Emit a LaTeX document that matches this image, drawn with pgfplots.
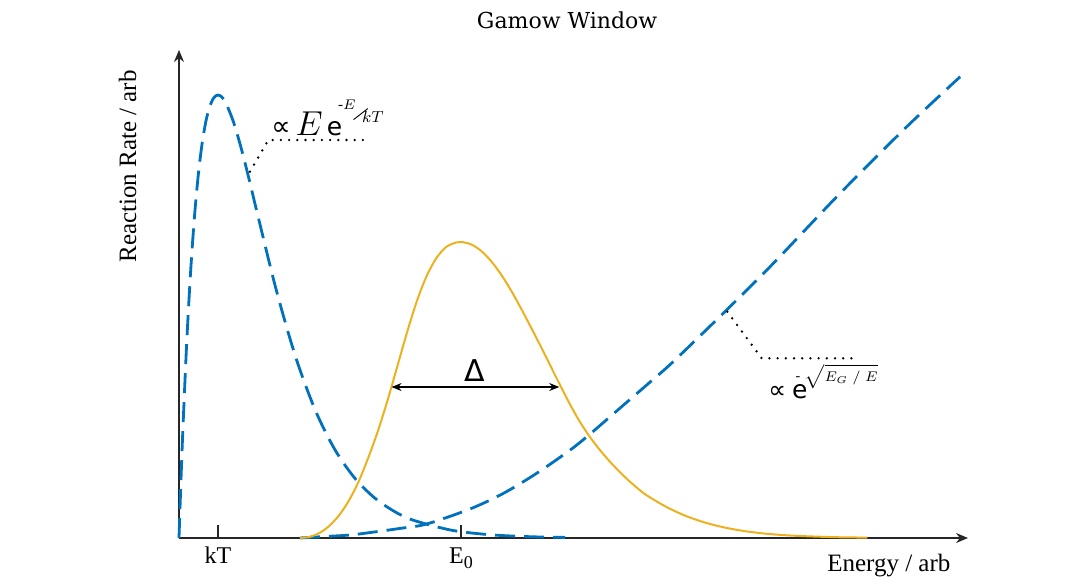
\documentclass[border=0pt]{standalone}
\usepackage{fontspec}
\setmainfont{Liberation Serif}
\newfontfamily\titlefont{DejaVu Serif}
\newfontfamily\dvsans{DejaVu Sans}
\usepackage{graphicx}
\usepackage{pgfplots}
\pgfplotsset{compat=1.18}
\usetikzlibrary{arrows.meta}
\definecolor{mblue}{HTML}{0072BD}
\definecolor{morange}{HTML}{EDB120}
\definecolor{axgray}{HTML}{262626}

% Maxwell-Boltzmann factor  E exp(-E/kT)   (energy in units of kT)
\pgfplotstableread{
E      R
0      0
0.05   0.573
0.1    1.090
0.2    1.972
0.3    2.676
0.4    3.229
0.5    3.652
0.6    3.965
0.7    4.186
0.8    4.329
0.9    4.406
1.0    4.430
1.1    4.409
1.2    4.352
1.4    4.157
1.6    3.890
1.8    3.583
2.0    3.259
2.5    2.471
3.0    1.799
3.5    1.273
4.0    0.882
4.5    0.602
5.0    0.406
5.5    0.271
6.0    0.179
7.0    0.077
8.0    0.032
9.0    0.013
9.9    0.006
}\mbtable

% Tunnelling probability  exp(-sqrt(E_G/E))
\pgfplotstableread{
E      R
3.10   0.000
3.60   0.012
4.38   0.030
5.00   0.060
5.74   0.100
6.35   0.140
7.46   0.290
8.32   0.447
9.17   0.647
10.03  0.880
10.54  1.040
11.31  1.300
12.08  1.560
12.67  1.763
14.04  2.280
15.24  2.747
16.95  3.447
18.66  4.113
20.03  4.613
}\tuntable

% Gamow peak (product of the two)
\pgfplotstableread{
E      R
3.10   0.000
3.35   0.012
3.60   0.050
3.85   0.120
4.10   0.225
4.35   0.370
4.60   0.560
4.85   0.800
5.10   1.070
5.35   1.380
5.60   1.720
5.85   2.060
6.10   2.370
6.35   2.620
6.60   2.800
6.85   2.910
7.10   2.955
7.25   2.960
7.50   2.935
7.75   2.870
8.00   2.770
8.25   2.640
8.50   2.485
8.75   2.310
9.00   2.125
9.25   1.935
9.50   1.740
9.75   1.545
10.00  1.355
10.25  1.180
10.50  1.030
10.75  0.900
11.00  0.785
11.25  0.680
11.50  0.585
11.75  0.500
12.00  0.425
12.50  0.310
13.00  0.220
13.50  0.153
14.00  0.104
14.50  0.069
15.00  0.045
15.50  0.029
16.00  0.019
16.50  0.012
17.00  0.007
17.65  0.004
}\gamowtable

\begin{document}
\begin{tikzpicture}
\path[use as bounding box] (-89.5pt,-24pt) rectangle (451pt,269pt);
\begin{axis}[
  scale only axis, width=394.5pt, height=244pt,
  xmin=0, xmax=20.23, ymin=0, ymax=4.88,
  axis lines=left,
  axis line style={axgray, line width=0.6pt, -{Stealth[length=6pt,width=5pt]}},
  xtick={1,7.23}, xticklabels={kT, E\raisebox{-2.5pt}{\fontsize{9}{10}\selectfont 0}},
  ytick=\empty,
  tick align=inside, major tick length=6.5pt,
  tick style={axgray, line width=0.6pt},
  xticklabel style={anchor=base, yshift=-12.5pt, font=\fontsize{12}{14}\selectfont},
  clip=false,
]
\addplot[mblue, line width=1.4pt, dash pattern=on 10pt off 4.5pt, smooth] table[x=E, y=R] {\mbtable};
\addplot[mblue, line width=1.4pt, dash pattern=on 10pt off 4.5pt, smooth] table[x=E, y=R] {\tuntable};
\addplot[morange, line width=1pt, smooth] table[x=E, y=R] {\gamowtable};

% width of the window
\draw[line width=0.7pt, {Stealth[length=5pt,width=4pt]}-{Stealth[length=5pt,width=4pt]}]
  (axis cs:5.45,1.51) -- (axis cs:9.75,1.51);
\node[anchor=base, font=\dvsans\fontsize{15}{18}\selectfont] at (axis cs:7.59,1.563) {Δ};

% leader lines
\draw[line width=1.3pt, line cap=round, dash pattern=on 0pt off 4.1pt]
  (axis cs:1.82,3.663) -- (axis cs:2.29,3.98) -- (axis cs:4.77,3.98);
\draw[line width=1.3pt, line cap=round, dash pattern=on 0pt off 4.1pt]
  (axis cs:14.06,2.263) -- (axis cs:14.94,1.797) -- (axis cs:17.29,1.797);

\node[anchor=base west, inner sep=0pt] at (axis cs:2.36,4.03)
  {{\dvsans\fontsize{13.5}{15}\selectfont ∝}\kern2.5pt{\fontsize{16}{18}\selectfont$E$}\kern2pt{\dvsans\fontsize{12.5}{14}\selectfont e}\kern-2pt\raisebox{13pt}{\fontsize{7.5}{8}\selectfont -$E$}\kern-1.2pt\raisebox{7.5pt}{\rotatebox{38}{\rule{9pt}{0.45pt}}}\kern-3pt\raisebox{6.5pt}{\fontsize{8}{9}\selectfont$kT$}};
\node[anchor=base west, inner sep=0pt] at (axis cs:15.10,1.40)
  {{\dvsans\fontsize{12.5}{14}\selectfont ∝\kern3pt e}\kern-6pt\raisebox{9pt}{\fontsize{7}{8}\selectfont -}\kern2.2pt\raisebox{8.5pt}{\fontsize{6.8}{7.5}\selectfont$\sqrt{E_G\;/\;E}$}};

% titles
\node[font=\titlefont\fontsize{11}{13}\selectfont] at (axis cs:9.95,5.18) {Gamow Window};
\node[rotate=90, font=\fontsize{12.5}{15}\selectfont] at (axis cs:-1.32,3.715) {Reaction Rate / arb};
\node[anchor=base, font=\fontsize{12.5}{15}\selectfont] at (axis cs:18.2,-0.337) {Energy / arb};
\end{axis}
\end{tikzpicture}
\end{document}
